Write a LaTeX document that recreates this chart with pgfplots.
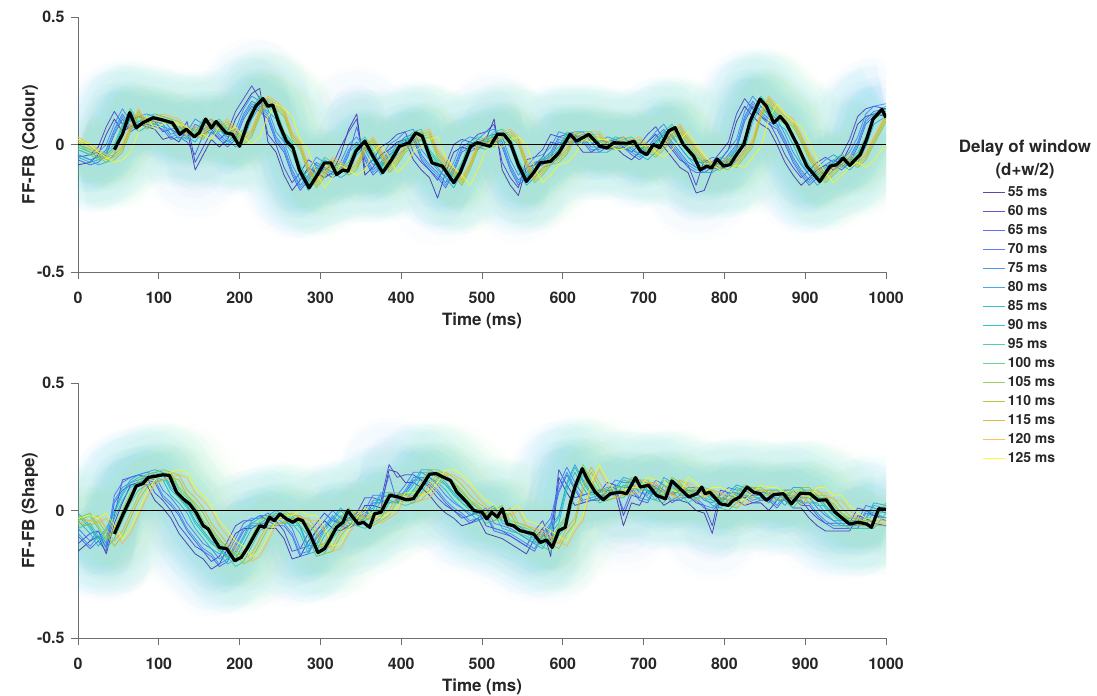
\documentclass[border=0pt]{standalone}
\usepackage{fontspec}
\setmainfont{TeX Gyre Heros}
\usepackage{pgfplots}
\pgfplotsset{compat=1.18}
\usepackage{pgfplotstable}

\definecolor{pc1}{RGB}{62,38,168}
\definecolor{pc2}{RGB}{69,55,213}
\definecolor{pc3}{RGB}{72,82,244}
\definecolor{pc4}{RGB}{66,105,254}
\definecolor{pc5}{RGB}{46,135,247}
\definecolor{pc6}{RGB}{37,155,232}
\definecolor{pc7}{RGB}{18,177,214}
\definecolor{pc8}{RGB}{11,189,189}
\definecolor{pc9}{RGB}{52,200,151}
\definecolor{pc10}{RGB}{74,207,114}
\definecolor{pc11}{RGB}{134,201,62}
\definecolor{pc12}{RGB}{175,191,24}
\definecolor{pc13}{RGB}{223,179,33}
\definecolor{pc14}{RGB}{254,181,62}
\definecolor{pc15}{RGB}{249,251,21}
\definecolor{axgray}{RGB}{110,110,110}

\pgfplotstableread{
t c1 c2 c3 c4 c5 c6 c7 c8 c9 c10 c11 c12 c13 c14 c15
0 -.08 -.05 -.06 -.04 -.02 -.05 -.04 -.01 .00 -.02 .00 .02 .01 .03 .02
15 -.07 -.04 -.08 -.06 -.04 -.07 -.06 -.03 -.02 -.04 -.03 -.01 -.02 .00 .00
25 -.04 -.01 -.07 -.05 -.03 -.06 -.08 -.05 -.04 -.06 -.05 -.03 -.04 -.02 -.03
35 .04 .07 -.04 -.02 .00 -.03 -.07 -.04 -.03 -.05 -.07 -.05 -.06 -.04 -.05
45 .10 .13 .04 .06 .08 .05 -.04 -.01 .00 -.02 -.06 -.04 -.05 -.03 -.07
55 .05 .08 .10 .12 .14 .11 .04 .07 .08 .06 -.03 -.01 -.02 .00 -.06
65 .07 .10 .05 .07 .09 .06 .10 .13 .14 .12 .05 .07 .06 .08 -.03
75 .08 .11 .07 .09 .11 .08 .05 .08 .09 .07 .11 .13 .12 .14 .05
85 .07 .10 .08 .10 .12 .09 .07 .10 .11 .09 .06 .08 .07 .09 .11
95 .06 .09 .07 .09 .11 .08 .08 .11 .12 .10 .08 .10 .09 .11 .06
105 .02 .05 .06 .08 .10 .07 .07 .10 .11 .09 .09 .11 .10 .12 .08
115 .03 .06 .02 .04 .06 .03 .06 .09 .10 .08 .08 .10 .09 .11 .09
125 .01 .04 .03 .05 .07 .04 .02 .05 .06 .04 .07 .09 .08 .10 .08
135 .06 .09 .01 .03 .05 .02 .03 .06 .07 .05 .03 .05 .04 .06 .07
145 -.10 -.07 -.04 .08 .10 .07 .01 .04 .05 .03 .04 .06 .05 .07 .03
155 -.04 -.01 .04 .06 .08 .05 .06 .09 .10 .08 .02 .04 .03 .05 .04
165 .02 .05 .06 .08 .10 .07 .04 .07 .08 .06 .07 .09 .08 .10 .02
175 -.01 .02 .02 .04 .06 .03 .06 .09 .10 .08 .05 .07 .06 .08 .07
185 .02 .05 -.01 .01 .03 .00 .02 .05 .06 .04 .07 .09 .08 .10 .05
195 .10 .13 .02 .04 .06 .03 -.01 .02 .03 .01 .03 .05 .04 .06 .07
205 .15 .18 .10 .12 .14 .11 .02 .05 .06 .04 .00 .02 .01 .03 .03
215 .20 .23 .15 .17 .19 .16 .10 .13 .14 .12 .03 .05 .04 .06 .00
225 .22 .18 .13 .15 .17 .14 .15 .18 .19 .17 .11 .13 .12 .14 .03
235 .01 .04 .10 .12 .14 .11 .13 .16 .17 .15 .16 .18 .17 .19 .11
245 -.03 .00 .01 .03 .05 .02 .10 .13 .14 .12 .14 .16 .15 .17 .16
255 -.12 -.09 -.03 -.01 .01 -.02 .01 .04 .05 .03 .11 .13 .12 .14 .14
265 -.18 -.15 -.12 -.10 -.08 -.11 -.03 .00 .01 -.01 .02 .04 .03 .05 .11
275 -.14 -.11 -.18 -.16 -.14 -.17 -.12 -.09 -.08 -.10 -.02 .00 -.01 .01 .02
285 -.09 -.06 -.14 -.12 -.10 -.13 -.18 -.15 -.14 -.16 -.11 -.09 -.10 -.08 -.02
295 -.11 -.08 -.09 -.07 -.05 -.08 -.14 -.11 -.10 -.12 -.17 -.15 -.16 -.14 -.11
305 -.13 -.10 -.11 -.09 -.07 -.10 -.09 -.06 -.05 -.07 -.13 -.11 -.12 -.10 -.17
315 -.11 -.08 -.13 -.11 -.09 -.12 -.11 -.08 -.07 -.09 -.08 -.06 -.07 -.05 -.13
325 -.04 -.01 -.11 -.09 -.07 -.10 -.13 -.10 -.09 -.11 -.10 -.08 -.09 -.07 -.08
335 .06 .05 -.04 -.02 .00 -.03 -.11 -.08 -.07 -.09 -.12 -.10 -.11 -.09 -.10
345 .12 .10 .07 .01 .03 .00 -.04 -.01 .00 -.02 -.10 -.08 -.09 -.07 -.12
355 -.12 -.09 -.06 -.04 -.02 -.05 -.01 .02 .03 .01 -.03 -.01 -.02 .00 -.10
365 -.09 -.06 -.12 -.10 -.08 -.11 -.06 -.03 -.02 -.04 .00 .02 .01 .03 -.03
375 -.04 -.01 -.09 -.07 -.05 -.08 -.12 -.09 -.08 -.10 -.05 -.03 -.04 -.02 .00
385 -.02 .01 -.04 -.02 .00 -.03 -.09 -.06 -.05 -.07 -.11 -.09 -.10 -.08 -.05
395 .01 .04 -.02 .00 .02 -.01 -.04 -.01 .00 -.02 -.08 -.06 -.07 -.05 -.11
405 .02 .05 .01 .03 .05 .02 -.02 .01 .02 .00 -.03 -.01 -.02 .00 -.08
415 -.06 -.03 .02 .04 .06 .03 .01 .04 .05 .03 -.01 .01 .00 .02 -.03
425 -.10 -.07 -.06 -.04 -.02 -.05 .02 .05 .06 .04 .02 .04 .03 .05 -.01
435 -.13 -.10 -.10 -.08 -.06 -.09 -.06 -.03 -.02 -.04 .03 .05 .04 .06 .02
445 -.21 -.14 -.13 -.11 -.09 -.12 -.10 -.07 -.06 -.08 -.05 -.03 -.04 -.02 .03
455 -.11 -.08 -.17 -.15 -.13 -.16 -.13 -.10 -.09 -.11 -.09 -.07 -.08 -.06 -.05
465 -.03 .00 -.11 -.09 -.07 -.10 -.17 -.14 -.13 -.15 -.12 -.10 -.11 -.09 -.09
475 -.01 .02 -.03 -.01 .01 -.02 -.11 -.08 -.07 -.09 -.16 -.14 -.15 -.13 -.12
485 -.02 .01 -.01 .01 .03 .00 -.03 .00 .01 -.01 -.10 -.08 -.09 -.07 -.16
495 .01 .04 -.02 .00 .02 -.01 -.01 .02 .03 .01 -.02 .00 -.01 .01 -.10
505 .02 .05 .01 .03 .05 .02 -.02 .01 .02 .00 .00 .02 .01 .03 -.02
515 .10 .08 .02 .04 .06 .03 .01 .04 .05 .03 -.01 .01 .00 .02 .00
525 -.10 -.07 -.01 .01 .03 .00 .02 .05 .06 .04 .02 .04 .03 .05 -.01
535 -.16 -.13 -.10 -.08 -.06 -.09 -.01 .02 .03 .01 .03 .05 .04 .06 .02
545 -.20 -.17 -.16 -.14 -.12 -.15 -.10 -.07 -.06 -.08 .00 .02 .01 .03 .03
555 -.09 -.06 -.13 -.11 -.09 -.12 -.16 -.13 -.12 -.14 -.09 -.07 -.08 -.06 .00
565 -.08 -.05 -.09 -.07 -.05 -.08 -.13 -.10 -.09 -.11 -.15 -.13 -.14 -.12 -.09
575 -.05 -.02 -.08 -.06 -.04 -.07 -.09 -.06 -.05 -.07 -.12 -.10 -.11 -.09 -.15
585 .01 .04 -.05 -.03 -.01 -.04 -.08 -.05 -.04 -.06 -.08 -.06 -.07 -.05 -.12
595 .00 .03 .01 .03 .05 .02 -.05 -.02 -.01 -.03 -.07 -.05 -.06 -.04 -.08
605 .01 .04 .00 .02 .04 .01 .01 .04 .05 .03 -.04 -.02 -.03 -.01 -.07
615 .01 .04 .01 .03 .05 .02 .00 .03 .04 .02 .02 .04 .03 .05 -.04
625 -.03 .00 .01 .03 .05 .02 .01 .04 .05 .03 .01 .03 .02 .04 .02
635 -.03 .00 -.03 -.01 .01 -.02 .01 .04 .05 .03 .02 .04 .03 .05 .01
645 -.01 .02 -.03 -.01 .01 -.02 -.03 .00 .01 -.01 .02 .04 .03 .05 .02
655 -.02 .01 -.01 .01 .03 .00 -.03 .00 .01 -.01 -.02 .00 -.01 .01 .02
665 -.01 .02 -.02 .00 .02 -.01 -.01 .02 .03 .01 -.02 .00 -.01 .01 -.02
675 -.04 -.01 -.01 .01 .03 .00 -.02 .01 .02 .00 .00 .02 .01 .03 -.02
685 -.06 -.03 -.04 -.02 .00 -.03 -.01 .02 .03 .01 -.01 .01 .00 .02 .00
695 -.03 .00 -.06 -.04 -.02 -.05 -.04 -.01 .00 -.02 .00 .02 .01 .03 -.01
705 .01 .04 -.03 -.01 .01 -.02 -.06 -.03 -.02 -.04 -.03 -.01 -.02 .00 .00
715 .04 .07 .01 .03 .05 .02 -.03 .00 .01 -.01 -.05 -.03 -.04 -.02 -.03
725 -.01 .02 .04 .06 .08 .05 .01 .04 .05 .03 -.02 .00 -.01 .01 -.05
735 -.05 -.02 -.01 .01 .03 .00 .04 .07 .08 .06 .02 .04 .03 .05 -.02
745 -.09 -.06 -.05 -.03 -.01 -.04 -.01 .02 .03 .01 .05 .07 .06 .08 .02
755 -.11 -.08 -.09 -.07 -.05 -.08 -.05 -.02 -.01 -.03 .00 .02 .01 .03 .05
765 -.19 -.16 -.11 -.09 -.07 -.10 -.09 -.06 -.05 -.07 -.04 -.02 -.03 -.01 .00
775 -.18 -.06 -.11 -.09 -.07 -.10 -.11 -.08 -.07 -.09 -.08 -.06 -.07 -.05 -.04
785 -.10 -.07 -.09 -.07 -.05 -.08 -.11 -.08 -.07 -.09 -.10 -.08 -.09 -.07 -.08
795 -.06 -.03 -.10 -.08 -.06 -.09 -.09 -.06 -.05 -.07 -.10 -.08 -.09 -.07 -.10
805 -.02 .01 -.06 -.04 -.02 -.05 -.10 -.07 -.06 -.08 -.08 -.06 -.07 -.05 -.10
815 .09 .12 -.02 .00 .02 -.01 -.06 -.03 -.02 -.04 -.09 -.07 -.08 -.06 -.08
825 .15 .18 .09 .11 .13 .10 -.02 .01 .02 .00 -.05 -.03 -.04 -.02 -.09
835 .11 .14 .15 .17 .19 .16 .09 .12 .13 .11 -.01 .01 .00 .02 -.05
845 .08 .11 .11 .13 .15 .12 .15 .18 .19 .17 .10 .12 .11 .13 -.01
855 .06 .09 .08 .10 .12 .09 .11 .14 .15 .13 .16 .18 .17 .19 .10
865 .00 .03 .06 .08 .10 .07 .08 .11 .12 .10 .12 .14 .13 .15 .16
875 -.07 -.04 .00 .02 .04 .01 .06 .09 .10 .08 .09 .11 .10 .12 .12
885 -.12 -.09 -.07 -.05 -.03 -.06 .00 .03 .04 .02 .07 .09 .08 .10 .09
895 -.16 -.13 -.12 -.10 -.08 -.11 -.07 -.04 -.03 -.05 .01 .03 .02 .04 .07
905 -.13 -.10 -.16 -.14 -.12 -.15 -.12 -.09 -.08 -.10 -.06 -.04 -.05 -.03 .01
915 -.10 -.07 -.13 -.11 -.09 -.12 -.16 -.13 -.12 -.14 -.11 -.09 -.10 -.08 -.06
925 -.08 -.05 -.10 -.08 -.06 -.09 -.13 -.10 -.09 -.11 -.15 -.13 -.14 -.12 -.11
935 -.10 -.07 -.08 -.06 -.04 -.07 -.10 -.07 -.06 -.08 -.12 -.10 -.11 -.09 -.15
945 -.07 -.04 -.10 -.08 -.06 -.09 -.08 -.05 -.04 -.06 -.09 -.07 -.08 -.06 -.12
955 -.01 .02 -.07 -.05 -.03 -.06 -.10 -.07 -.06 -.08 -.07 -.05 -.06 -.04 -.09
965 .08 .11 -.01 .01 .03 .00 -.07 -.04 -.03 -.05 -.09 -.07 -.08 -.06 -.07
975 .11 .14 .08 .10 .12 .09 -.01 .02 .03 .01 -.06 -.04 -.05 -.03 -.09
985 .12 .15 .11 .13 .15 .12 .08 .11 .12 .10 .00 .02 .01 .03 -.06
1000 .11 .14 .12 .14 .16 .13 .11 .14 .15 .13 .09 .11 .10 .12 .00
}\topC

\pgfplotstableread{
t c1 c2 c3 c4 c5 c6 c7 c8 c9 c10 c11 c12 c13 c14 c15
0 -.16 -.13 -.10 -.07 -.09 -.01 -.04 -.02 -.07 -.04 -.03 -.05 -.03 -.05 -.03
15 -.12 -.09 -.15 -.12 -.14 -.06 -.09 -.07 -.05 -.02 -.01 -.06 -.04 -.04 -.02
25 -.10 -.08 -.12 -.08 -.10 -.11 -.14 -.12 -.10 -.07 -.06 -.04 -.02 -.05 -.03
35 -.17 -.15 -.16 -.13 -.14 -.07 -.10 -.08 -.15 -.12 -.11 -.09 -.07 -.03 -.01
45 -.05 -.02 .03 .06 .04 .00 -.03 -.01 -.11 -.08 -.07 -.14 -.12 -.08 -.06
55 .03 .12 .08 .11 .09 .07 .04 .06 -.04 -.01 .00 -.10 -.08 -.13 -.11
65 .10 .13 .10 .13 .11 .12 .09 .11 .03 .06 .07 -.03 -.01 -.09 -.07
75 .11 .14 .11 .14 .12 .14 .11 .13 .08 .11 .12 .04 .06 -.02 .00
85 .10 .13 .12 .15 .13 .15 .12 .14 .10 .13 .14 .09 .11 .05 .07
95 .04 .07 .11 .14 .12 .16 .13 .15 .11 .14 .15 .11 .13 .10 .12
105 .01 .04 .05 .08 .06 .15 .12 .14 .12 .15 .16 .12 .14 .12 .14
115 -.03 .00 .02 .05 .03 .09 .06 .08 .11 .14 .15 .13 .15 .13 .15
125 -.09 -.06 -.02 .01 -.01 .06 .03 .05 .05 .08 .09 .12 .14 .14 .16
135 -.13 -.10 -.08 -.05 -.07 .02 -.01 .01 .02 .05 .06 .06 .08 .13 .15
145 -.17 -.14 -.12 -.09 -.11 -.04 -.07 -.05 -.02 .01 .02 .03 .05 .07 .09
155 -.19 -.16 -.16 -.13 -.15 -.08 -.11 -.09 -.08 -.05 -.04 -.01 .01 .04 .06
165 -.23 -.20 -.18 -.15 -.17 -.12 -.15 -.13 -.12 -.09 -.08 -.07 -.05 .00 .02
175 -.21 -.18 -.22 -.19 -.21 -.14 -.17 -.15 -.16 -.13 -.12 -.11 -.09 -.06 -.04
185 -.15 -.12 -.20 -.17 -.19 -.18 -.21 -.19 -.18 -.15 -.14 -.15 -.13 -.10 -.08
195 -.09 -.06 -.14 -.11 -.13 -.16 -.19 -.17 -.22 -.19 -.18 -.17 -.15 -.14 -.12
205 -.07 -.04 -.08 -.05 -.07 -.10 -.13 -.11 -.20 -.17 -.16 -.21 -.19 -.16 -.14
215 -.07 -.04 -.06 -.03 -.05 -.04 -.07 -.05 -.14 -.11 -.10 -.19 -.17 -.20 -.18
225 -.05 -.02 -.06 -.03 -.05 -.02 -.05 -.03 -.08 -.05 -.04 -.13 -.11 -.18 -.16
235 -.07 -.04 -.04 -.01 -.03 -.02 -.05 -.03 -.06 -.03 -.02 -.07 -.05 -.12 -.10
245 -.07 -.04 -.06 -.03 -.05 .00 -.03 -.01 -.06 -.03 -.02 -.05 -.03 -.06 -.04
255 -.11 -.08 -.06 -.03 -.05 -.02 -.05 -.03 -.04 -.01 .00 -.05 -.03 -.04 -.02
265 -.19 -.16 -.10 -.07 -.09 -.02 -.05 -.03 -.06 -.03 -.02 -.03 -.01 -.04 -.02
275 -.18 -.15 -.18 -.15 -.17 -.06 -.09 -.07 -.06 -.03 -.02 -.05 -.03 -.02 .00
285 -.12 -.09 -.17 -.14 -.16 -.14 -.17 -.15 -.10 -.07 -.06 -.05 -.03 -.04 -.02
295 -.08 -.05 -.11 -.08 -.10 -.13 -.16 -.14 -.18 -.15 -.14 -.09 -.07 -.04 -.02
305 -.04 -.01 -.07 -.04 -.06 -.07 -.10 -.08 -.17 -.14 -.13 -.17 -.15 -.08 -.06
315 -.07 -.04 -.03 .00 -.02 -.03 -.06 -.04 -.11 -.08 -.07 -.16 -.14 -.16 -.14
325 -.08 -.05 -.06 -.03 -.05 .01 -.02 .00 -.07 -.04 -.03 -.10 -.08 -.15 -.13
335 -.06 -.03 -.07 -.04 -.06 -.02 -.05 -.03 -.03 .00 .01 -.06 -.04 -.09 -.07
345 -.04 -.01 -.05 -.02 -.04 -.03 -.06 -.04 -.06 -.03 -.02 -.02 .00 -.05 -.03
355 .02 .05 -.03 .00 -.02 -.01 -.04 -.02 -.07 -.04 -.03 -.05 -.03 -.01 .01
365 .02 .05 .03 .06 .04 .01 -.02 .00 -.05 -.02 -.01 -.06 -.04 -.04 -.02
375 .01 .04 .03 .06 .04 .07 .04 .06 -.03 .00 .01 -.04 -.02 -.05 -.03
385 .16 .18 .14 .05 .03 .07 .04 .06 .03 .06 .07 -.02 .00 -.03 -.01
395 .15 .13 .03 .06 .04 .06 .03 .05 .03 .06 .07 .04 .06 -.01 .01
405 .11 .14 .07 .10 .08 .07 .04 .06 .02 .05 .06 .04 .06 .05 .07
415 .11 .14 .12 .15 .13 .11 .08 .10 .03 .06 .07 .03 .05 .05 .07
425 .09 .12 .12 .15 .13 .16 .13 .15 .07 .10 .11 .04 .06 .04 .06
435 .06 .09 .10 .13 .11 .16 .13 .15 .12 .15 .16 .08 .10 .05 .07
445 .02 .05 .07 .10 .08 .14 .11 .13 .12 .15 .16 .13 .15 .09 .11
455 -.01 .02 .03 .06 .04 .11 .08 .10 .10 .13 .14 .13 .15 .14 .16
465 -.03 .00 .00 .03 .01 .07 .04 .06 .07 .10 .11 .11 .13 .14 .16
475 -.06 -.03 -.02 .01 -.01 .04 .01 .03 .03 .06 .07 .08 .10 .12 .14
485 -.05 -.02 -.05 -.02 -.04 .02 -.01 .01 .00 .03 .04 .04 .06 .09 .11
495 -.03 .00 -.04 -.01 -.03 -.01 -.04 -.02 -.02 .01 .02 .01 .03 .05 .07
505 -.09 -.06 -.02 .01 -.01 .00 -.03 -.01 -.05 -.02 -.01 -.01 .01 .02 .04
515 -.10 -.07 -.08 -.05 -.07 .02 -.01 .01 -.04 -.01 .00 -.04 -.02 .00 .02
525 -.11 -.08 -.09 -.06 -.08 -.04 -.07 -.05 -.02 .01 .02 -.03 -.01 -.03 -.01
535 -.13 -.10 -.10 -.07 -.09 -.05 -.08 -.06 -.08 -.05 -.04 -.01 .01 -.02 .00
545 -.15 -.12 -.12 -.09 -.11 -.06 -.09 -.07 -.09 -.06 -.05 -.07 -.05 .00 .02
555 -.17 -.14 -.14 -.11 -.13 -.08 -.11 -.09 -.10 -.07 -.06 -.08 -.06 -.06 -.04
565 -.11 -.08 -.16 -.13 -.15 -.10 -.13 -.11 -.12 -.09 -.08 -.09 -.07 -.07 -.05
575 -.07 -.04 -.10 -.07 -.09 -.12 -.15 -.13 -.14 -.11 -.10 -.11 -.09 -.08 -.06
585 -.18 -.12 -.06 -.03 -.05 -.06 -.09 -.07 -.16 -.13 -.12 -.13 -.11 -.10 -.08
595 .13 .16 .07 .10 .08 -.02 -.05 -.03 -.10 -.07 -.06 -.15 -.13 -.12 -.10
605 .07 .10 .14 .17 .15 .11 .08 .10 -.06 -.03 -.02 -.09 -.07 -.14 -.12
615 .02 .05 .08 .11 .09 .18 .15 .17 .07 .10 .11 -.05 -.03 -.08 -.06
625 .03 .06 .03 .06 .04 .12 .09 .11 .14 .17 .18 .08 .10 -.04 -.02
635 .04 .07 .04 .07 .05 .07 .04 .06 .08 .11 .12 .15 .17 .09 .11
645 .04 .07 .05 .08 .06 .08 .05 .07 .03 .06 .07 .09 .11 .16 .18
655 .08 .11 .05 .08 .06 .09 .06 .08 .04 .07 .08 .04 .06 .10 .12
665 .07 .10 .09 .12 .10 .09 .06 .08 .05 .08 .09 .05 .07 .05 .07
675 -.06 -.02 .00 .11 .09 .13 .10 .12 .05 .08 .09 .06 .08 .06 .08
685 .03 .06 .08 .11 .09 .12 .09 .11 .09 .12 .13 .06 .08 .07 .09
695 .02 .05 .04 .07 .05 .12 .09 .11 .08 .11 .12 .10 .12 .07 .09
705 .08 .11 .03 .06 .04 .08 .05 .07 .08 .11 .12 .09 .11 .11 .13
715 .06 .09 .09 .12 .10 .07 .04 .06 .04 .07 .08 .09 .11 .10 .12
725 .02 .05 .07 .10 .08 .13 .10 .12 .03 .06 .07 .05 .07 .10 .12
735 .04 .07 .03 .06 .04 .11 .08 .10 .09 .12 .13 .04 .06 .06 .08
745 .04 .07 .05 .08 .06 .07 .04 .06 .07 .10 .11 .10 .12 .05 .07
755 .03 .06 .05 .08 .06 .09 .06 .08 .03 .06 .07 .08 .10 .11 .13
765 .00 .03 .04 .07 .05 .09 .06 .08 .05 .08 .09 .04 .06 .09 .11
775 -.01 .02 .01 .04 .02 .08 .05 .07 .05 .08 .09 .06 .08 .05 .07
785 -.09 -.06 .00 .03 .01 .05 .02 .04 .04 .07 .08 .06 .08 .07 .09
795 .05 .08 .03 .06 .04 .04 .01 .03 .01 .04 .05 .05 .07 .07 .09
805 .04 .07 .06 .09 .07 .07 .04 .06 .00 .03 .04 .02 .04 .06 .08
815 .04 .07 .05 .08 .06 .10 .07 .09 .03 .06 .07 .01 .03 .03 .05
825 .02 .05 .05 .08 .06 .09 .06 .08 .06 .09 .10 .04 .06 .02 .04
835 .03 .06 .03 .06 .04 .09 .06 .08 .05 .08 .09 .07 .09 .05 .07
845 .03 .06 .04 .07 .05 .07 .04 .06 .05 .08 .09 .06 .08 .08 .10
855 .00 .03 .04 .07 .05 .08 .05 .07 .03 .06 .07 .06 .08 .07 .09
865 .04 .07 .01 .04 .02 .08 .05 .07 .04 .07 .08 .04 .06 .07 .09
875 .04 .07 .05 .08 .06 .05 .02 .04 .04 .07 .08 .05 .07 .05 .07
885 .01 .04 .05 .08 .06 .09 .06 .08 .01 .04 .05 .05 .07 .06 .08
895 .01 .04 .02 .05 .03 .09 .06 .08 .05 .08 .09 .02 .04 .06 .08
905 -.03 .00 .02 .05 .03 .06 .03 .05 .05 .08 .09 .06 .08 .03 .05
915 -.06 -.03 -.02 .01 -.01 .06 .03 .05 .02 .05 .06 .06 .08 .07 .09
925 -.08 -.05 -.05 -.02 -.04 .02 -.01 .01 .02 .05 .06 .03 .05 .07 .09
935 -.08 -.05 -.07 -.04 -.06 -.01 -.04 -.02 -.02 .01 .02 .03 .05 .04 .06
945 -.08 -.05 -.07 -.04 -.06 -.03 -.06 -.04 -.05 -.02 -.01 -.01 .01 .04 .06
955 -.08 -.05 -.07 -.04 -.06 -.03 -.06 -.04 -.07 -.04 -.03 -.04 -.02 .00 .02
965 -.02 .01 -.07 -.04 -.06 -.03 -.06 -.04 -.07 -.04 -.03 -.06 -.04 -.03 -.01
975 -.03 .00 -.01 .02 .00 -.03 -.06 -.04 -.07 -.04 -.03 -.06 -.04 -.05 -.03
985 -.05 -.02 -.02 .01 -.01 .03 .00 .02 -.07 -.04 -.03 -.06 -.04 -.05 -.03
1000 -.06 -.03 -.04 -.01 -.03 .02 -.01 .01 -.01 .02 .03 -.06 -.04 -.05 -.03
}\botC

\pgfplotsset{
  panel/.style={
    width=808bp, height=255bp, scale only axis,
    xmin=0, xmax=1000, ymin=-0.5, ymax=0.5,
    axis lines*=left,
    axis line style={axgray, line width=0.7bp},
    tick align=outside, major tick length=7bp,
    tick style={axgray, line width=0.7bp},
    xtick={0,100,...,1000}, ytick={-0.5,0,0.5},
    yticklabels={-0.5,0,0.5},
    /pgf/number format/assume math mode=true,
    /pgf/number format/1000 sep={},
    ticklabel style={font=\fontsize{16}{16}\selectfont\bfseries, text=black!85},
    xticklabel style={yshift=-9bp},
    yticklabel style={xshift=-3bp},
    label style={font=\fontsize{17}{17}\selectfont\bfseries, text=black!85},
    xlabel={Time (ms)},
    ylabel style={at={(axis description cs:-0.0594,0.5)}, anchor=center},
    xlabel style={at={(axis description cs:0.5,-0.192)}, anchor=center},
  },
  bandA/.style={forget plot, draw=#1!55!cyan, line width=96bp, opacity=0.014, line join=round},
  bandB/.style={forget plot, draw=#1!70!cyan, line width=56bp, opacity=0.022, line join=round},
  thin/.style={#1, line width=0.8bp, opacity=0.85, line join=round},
}

\begin{document}
\begin{tikzpicture}
\useasboundingbox (-78bp,-424bp) rectangle (1019bp,272bp);

\begin{axis}[panel, name=top,
  ylabel={FF-FB (Colour)},
  legend entries={55 ms,60 ms,65 ms,70 ms,75 ms,80 ms,85 ms,90 ms,95 ms,100 ms,105 ms,110 ms,115 ms,120 ms,125 ms},
  legend style={at={(1.12,0.341)}, anchor=north west, draw=none, fill=none,
    inner sep=0pt, outer sep=0pt, row sep=3.4bp,
    font=\fontsize{14}{14}\selectfont\bfseries,
    nodes={inner sep=2bp, text=black!85}},
  legend cell align=left,
  legend image code/.code={\draw[#1] (0bp,0bp) -- (22bp,0bp);},
]
\pgfplotsinvokeforeach{1,...,15}{
  \addplot[bandA=pc#1] table[x=t, y=c#1] {\topC};
  \addplot[bandB=pc#1] table[x=t, y=c#1] {\topC};
}
\pgfplotsinvokeforeach{1,...,15}{
  \addplot[thin=pc#1] table[x=t, y=c#1] {\topC};
}
\addplot[forget plot, black, line width=0.8bp] coordinates {(0,0) (1000,0)};
\addplot[forget plot, black, line width=3.2bp, line join=round] coordinates {
(45,-.02) (55,.04) (64,.125) (72,.065) (80,.085) (93,.105) (105,.096) (117,.085)
(126,.04) (134,.06) (144,.03) (150,.046) (158,.10) (165,.065) (171,.09) (183,.046)
(191,.04) (200,-.007) (210,.085) (220,.15) (229,.18) (235,.15) (241,.155) (249,.08)
(258,.013) (266,-.013) (274,-.10) (286,-.17) (295,-.125) (305,-.072) (313,-.072)
(320,-.118) (328,-.10) (334,-.105) (344,-.026) (355,.013) (365,-.046) (377,-.11)
(388,-.06) (398,-.007) (410,.007) (418,.046) (426,.033) (438,-.072) (451,-.085)
(465,-.15) (473,-.11) (486,-.007) (494,.007) (510,-.007) (519,.04) (527,.04)
(535,.007) (545,-.08) (555,-.145) (564,-.11) (572,-.072) (585,-.066) (595,-.033)
(609,.04) (617,.013) (632,.04) (646,-.007) (655,-.013) (663,.007) (679,.004)
(688,.013) (696,-.026) (704,-.04) (712,0) (720,-.013) (731,.053) (739,.066)
(749,0) (762,-.046) (770,-.10) (778,-.085) (784,-.092) (791,-.057) (799,-.085)
(807,-.079) (815,-.04) (824,0) (832,.092) (844,.178) (852,.15) (861,.085)
(869,.11) (877,.08) (890,0) (902,-.085) (918,-.145) (931,-.085) (939,-.079)
(947,-.053) (955,-.082) (968,-.04) (976,.02) (984,.10) (995,.138) (1000,.105)};
\end{axis}

\begin{axis}[panel, name=bot, at={(0,-366bp)}, anchor=south west,
  ylabel={FF-FB (Shape)},
]
\pgfplotsinvokeforeach{1,...,15}{
  \addplot[bandA=pc#1] table[x=t, y=c#1] {\botC};
  \addplot[bandB=pc#1] table[x=t, y=c#1] {\botC};
}
\pgfplotsinvokeforeach{1,...,15}{
  \addplot[thin=pc#1] table[x=t, y=c#1] {\botC};
}
\addplot[black, line width=0.8bp] coordinates {(45,0) (1000,0)};
\addplot[black, line width=3.2bp, line join=round] coordinates {
(45,-.092) (56,-.013) (66,.053) (72,.096) (80,.105) (87,.13) (97,.135) (105,.14)
(113,.138) (122,.072) (130,.046) (138,.026) (146,-.007) (155,-.06) (161,-.072)
(167,-.105) (175,-.145) (184,-.15) (194,-.197) (202,-.184) (210,-.145) (217,-.105)
(225,-.06) (231,-.066) (237,-.026) (243,-.04) (250,-.013) (258,-.033) (266,-.046)
(272,-.033) (278,-.04) (287,-.092) (297,-.165) (305,-.15) (311,-.118) (320,-.066)
(328,-.046) (334,0) (340,-.026) (347,-.053) (353,-.046) (361,-.066) (367,-.013)
(375,-.007) (386,.06) (396,.053) (406,.042) (415,.046) (425,.092) (435,.142)
(443,.145) (456,.125) (461,.118) (469,.072) (479,.04) (490,0) (500,-.007)
(506,-.033) (512,-.007) (519,-.026) (525,.007) (531,-.053) (539,-.06) (547,-.079)
(556,-.086) (564,-.092) (572,-.125) (580,-.116) (587,-.145) (595,-.079) (603,-.066)
(609,.026) (615,.092) (624,.164) (630,.125) (640,.072) (650,.042) (659,.066)
(671,.072) (679,.066) (690,.129) (696,.092) (706,.099) (716,.059) (727,.046)
(735,.116) (745,.086) (756,.053) (766,.066) (772,.092) (776,.066) (782,.072)
(795,.026) (805,.02) (811,.04) (819,.053) (828,.092) (836,.072) (844,.066)
(852,.04) (861,.062) (873,.066) (883,.026) (894,.068) (906,.066) (916,.04)
(926,.042) (937,-.007) (947,-.033) (955,-.053) (966,-.046) (976,-.053) (982,-.066)
(991,.007) (1000,.004)};
\end{axis}

\node[font=\fontsize{17}{17}\selectfont\bfseries, text=black!85, anchor=center]
  at ([shift={(947bp,124bp)}]top.south west) {Delay of window};
\node[font=\fontsize{17}{17}\selectfont\bfseries, text=black!85, anchor=center]
  at ([shift={(947bp,101bp)}]top.south west) {(d+w/2)};
\end{tikzpicture}
\end{document}
